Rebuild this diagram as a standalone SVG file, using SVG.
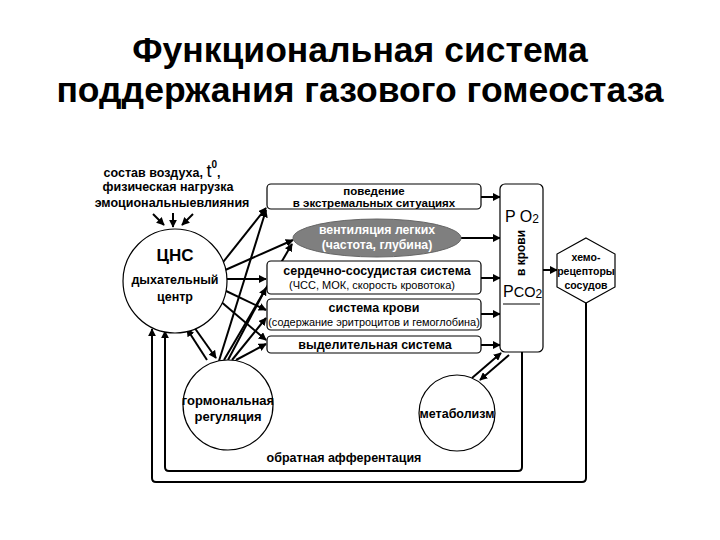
<svg xmlns="http://www.w3.org/2000/svg" width="720" height="540" viewBox="0 0 720 540">
<defs>
<marker id="ah" viewBox="0 0 10 10" refX="9" refY="5" markerWidth="4" markerHeight="4" orient="auto" markerUnits="strokeWidth">
<path d="M0,0 L10,5 L0,10 z" fill="#000"/>
</marker>
<style>
text{font-family:"Liberation Sans",Arial,sans-serif;fill:#000}
.t{font-size:35.5px;font-weight:bold;text-anchor:middle}
.b{font-size:12.5px;font-weight:bold;text-anchor:middle}
.n{font-size:11px;text-anchor:middle}
.box{fill:#fff;stroke:#000;stroke-width:1.2}
.circ{fill:#fff;stroke:#000;stroke-width:1.2}
.c line,.c path,.c polyline{stroke:#000;stroke-width:2;fill:none}
.arr{marker-end:url(#ah)}
</style>
</defs>
<rect width="720" height="540" fill="#fff"/>
<text class="t" x="360" y="62">Функциональная система</text>
<text class="t" x="360" y="102">поддержания газового гомеостаза</text>

<g id="inputs">
<text class="b" x="162" y="177">состав воздуха, <tspan font-size="18" font-weight="normal">t</tspan><tspan font-size="10" dy="-9">0</tspan><tspan dy="9">,</tspan></text>
<text class="b" x="168" y="191">физическая нагрузка</text>
<text class="b" x="172" y="207">эмоциональныевлияния</text>
</g>

<g class="c" id="connectors">
<line class="arr" x1="153" y1="214" x2="164" y2="225"/>
<line class="arr" x1="173" y1="213" x2="173" y2="227"/>
<line class="arr" x1="193" y1="214" x2="182" y2="225"/>
<line class="arr" x1="220" y1="266" x2="266" y2="208"/>
<line class="arr" x1="223" y1="271" x2="293" y2="240"/>
<line class="arr" x1="227" y1="279" x2="266" y2="279"/>
<line class="arr" x1="224" y1="290" x2="266" y2="310"/>
<line class="arr" x1="219" y1="300" x2="266" y2="340"/>
<line class="arr" x1="219" y1="361" x2="266" y2="210"/>
<line class="arr" x1="224" y1="360" x2="292" y2="244"/>
<line class="arr" x1="228" y1="360" x2="266" y2="288"/>
<line class="arr" x1="232" y1="360" x2="266" y2="318"/>
<line class="arr" x1="236" y1="360" x2="266" y2="344"/>
<line class="arr" x1="207" y1="360" x2="187" y2="329"/>
<line class="arr" x1="194" y1="327" x2="216" y2="358"/>
<line class="arr" x1="481" y1="197" x2="500" y2="197"/>
<line class="arr" x1="461" y1="238" x2="500" y2="238"/>
<line class="arr" x1="481" y1="278" x2="500" y2="278"/>
<line class="arr" x1="481" y1="314" x2="500" y2="314"/>
<line class="arr" x1="481" y1="345" x2="500" y2="345"/>
<line class="arr" x1="543" y1="270" x2="557" y2="270"/>
<line class="arr" x1="472" y1="378" x2="501" y2="353"/>
<line class="arr" x1="509" y1="355" x2="480" y2="380"/>
<path class="arr" d="M522,304 V467 Q522,471 518,471 H169 Q165,471 165,467 V331"/>
<path class="arr" d="M586,303 V478 Q586,482 582,482 H156 Q152,482 152,478 V329"/>
</g>

<g id="cns">
<circle class="circ" cx="175" cy="281" r="52"/>
<text class="b" x="175" y="261" style="font-size:17px">ЦНС</text>
<text class="b" x="175" y="284">дыхательный</text>
<text class="b" x="175" y="301">центр</text>
</g>

<g id="hormonal">
<circle class="circ" cx="228" cy="405" r="45"/>
<text class="b" x="228" y="405" style="font-size:13px">гормональная</text>
<text class="b" x="228" y="421" style="font-size:13px">регуляция</text>
</g>

<g id="metabolism">
<circle class="circ" cx="457" cy="413" r="38"/>
<text class="b" x="457" y="418">метаболизм</text>
</g>

<g id="behavior">
<rect class="box" x="267" y="184" width="214" height="25" rx="4"/>
<text class="b" x="374" y="194.5" style="font-size:11.5px">поведение</text>
<text class="b" x="374" y="206.5" style="font-size:11.5px">в экстремальных ситуациях</text>
</g>

<g id="ventilation">
<ellipse cx="377" cy="238" rx="84" ry="19" fill="#7f7f7f" stroke="#666" stroke-width="1"/>
<text class="b" x="377" y="234" style="fill:#fff;font-size:12.3px">вентиляция легких</text>
<text class="b" x="377" y="249" style="fill:#fff;font-size:12.3px">(частота, глубина)</text>
</g>

<g id="cardio">
<rect class="box" x="267" y="261" width="214" height="33" rx="4"/>
<text class="b" x="377" y="275">сердечно-сосудистая система</text>
<text class="n" x="372" y="289">(ЧСС, МОК, скорость кровотока)</text>
</g>

<g id="blood-system">
<rect class="box" x="267" y="299" width="214" height="31" rx="4"/>
<text class="b" x="374" y="312">система  крови</text>
<text class="n" x="374" y="326" style="font-size:10.9px">(содержание эритроцитов и гемоглобина)</text>
</g>

<g id="excretion">
<rect class="box" x="267" y="336" width="214" height="17" rx="4"/>
<text class="b" x="375" y="349">выделительная система</text>
</g>

<g id="blood">
<rect class="box" x="500" y="184" width="43" height="168" rx="5"/>
<text x="505" y="222" style="font-size:16px">P<tspan dx="4">O</tspan><tspan font-size="12" dy="1">2</tspan></text>
<text class="b" transform="translate(525,253) rotate(-90)" x="0" y="0" style="font-size:12px">в крови</text>
<text x="503" y="297" style="font-size:16px">P<tspan font-size="14.5">CO</tspan><tspan font-size="12" dy="1">2</tspan></text>
<line x1="503" y1="304" x2="540" y2="304" stroke="#000" stroke-width="1"/>
</g>

<g id="chemoreceptors">
<polygon points="586,238 615,254 615,287 586,303 557,287 557,254" class="box"/>
<text class="b" x="586" y="261" style="font-size:10.5px">хемо-</text>
<text class="b" x="586" y="275" style="font-size:10.5px">рецепторы</text>
<text class="b" x="586" y="289" style="font-size:10.5px">сосудов</text>
</g>

<g id="feedback-label">
<text class="b" x="344" y="462">обратная афферентация</text>
</g>
</svg>
